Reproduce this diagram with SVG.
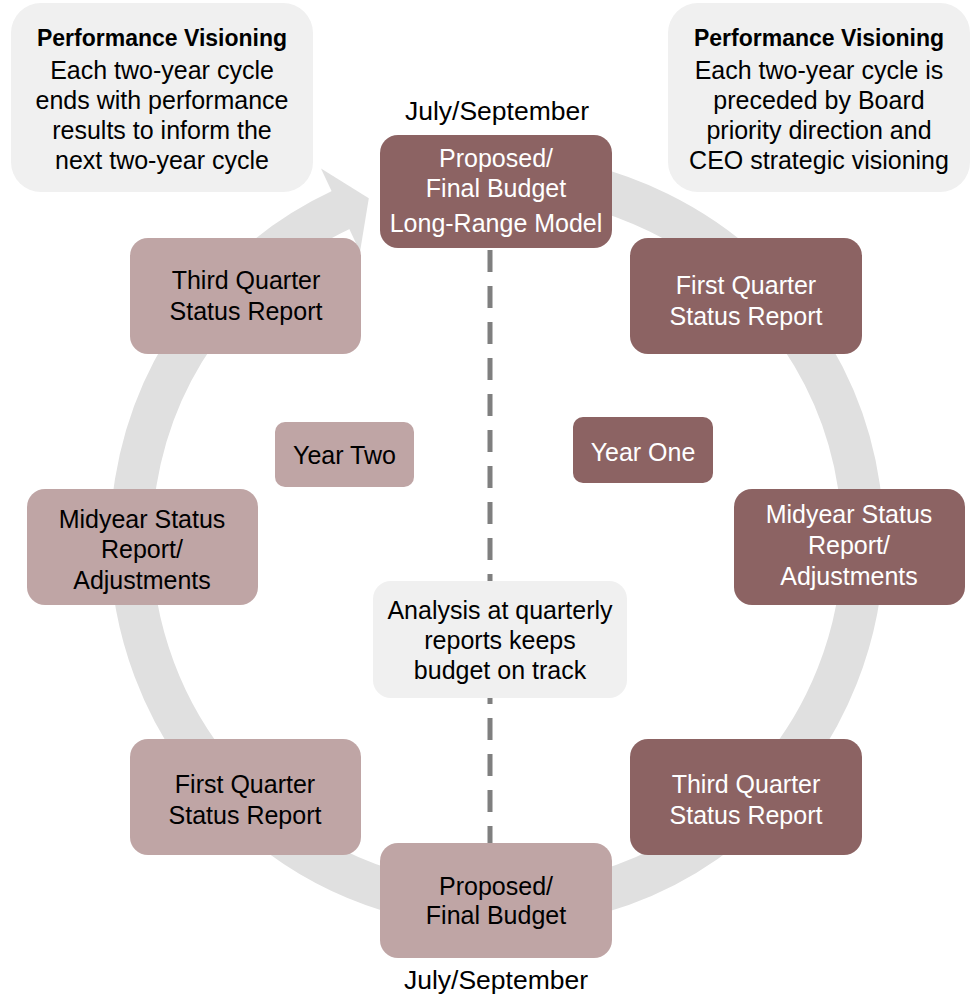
<svg xmlns="http://www.w3.org/2000/svg" width="972" height="996" viewBox="0 0 972 996">
<style>
text{font-family:"Liberation Sans",Arial,sans-serif;font-size:25px;text-anchor:middle}
.b{font-weight:bold;font-size:23px}
.js{font-size:26.5px}
.dk{fill:#8c6363}
.lt{fill:#bfa5a5}
.cl{fill:#f0f0f0}
.w{fill:#ffffff}
.k{fill:#000000}
</style>
<rect width="972" height="996" fill="#ffffff"/>
<g id="cycle-ring">
<path d="M497,175 A366,366 0 1 1 342.3,209.3" fill="none" stroke="#e0e0e0" stroke-width="42"/>
<polygon points="321,168.5 368.8,198.2 360,251.7" fill="#e0e0e0"/>
</g>
<g id="connectors">
<line x1="490" y1="250" x2="490" y2="843" stroke="#7f7f7f" stroke-width="5" stroke-dasharray="22 14"/>
</g>
<g id="callout-left">
<rect x="11" y="3" width="302" height="189" rx="30" class="cl"/>
<text x="162" y="46" class="b k">Performance Visioning</text>
<text x="162" y="79" class="k">Each two-year cycle</text>
<text x="162" y="109" class="k">ends with performance</text>
<text x="162" y="139" class="k">results to inform the</text>
<text x="162" y="169" class="k">next two-year cycle</text>
</g>
<g id="callout-right">
<rect x="668" y="3" width="302" height="189" rx="30" class="cl"/>
<text x="819" y="46" class="b k">Performance Visioning</text>
<text x="819" y="79" class="k">Each two-year cycle is</text>
<text x="819" y="109" class="k">preceded by Board</text>
<text x="819" y="139" class="k">priority direction and</text>
<text x="819" y="169" class="k">CEO strategic visioning</text>
</g>
<g id="label-top">
<text x="497" y="120" class="k js">July/September</text>
</g>
<g id="node-top-budget">
<rect x="380" y="135" width="232" height="113" rx="18" class="dk"/>
<text x="496" y="167" class="w">Proposed/</text>
<text x="496" y="197" class="w">Final Budget</text>
<text x="496" y="232" class="w">Long-Range Model</text>
</g>
<g id="node-y1-q1">
<rect x="630" y="238" width="232" height="116" rx="18" class="dk"/>
<text x="746" y="294" class="w">First Quarter</text>
<text x="746" y="325" class="w">Status Report</text>
</g>
<g id="node-year-one">
<rect x="573" y="417" width="140" height="66" rx="10" class="dk"/>
<text x="643" y="461" class="w">Year One</text>
</g>
<g id="node-y1-mid">
<rect x="734" y="489" width="231" height="116" rx="18" class="dk"/>
<text x="849" y="523" class="w">Midyear Status</text>
<text x="849" y="554" class="w">Report/</text>
<text x="849" y="585" class="w">Adjustments</text>
</g>
<g id="node-y1-q3">
<rect x="630" y="739" width="232" height="116" rx="18" class="dk"/>
<text x="746" y="793" class="w">Third Quarter</text>
<text x="746" y="824" class="w">Status Report</text>
</g>
<g id="node-bottom-budget">
<rect x="380" y="843" width="232" height="115" rx="18" class="lt"/>
<text x="496" y="895" class="k">Proposed/</text>
<text x="496" y="924" class="k">Final Budget</text>
</g>
<g id="label-bottom">
<text x="496" y="989" class="k js">July/September</text>
</g>
<g id="node-y2-q1">
<rect x="130" y="739" width="231" height="116" rx="18" class="lt"/>
<text x="245" y="793" class="k">First Quarter</text>
<text x="245" y="824" class="k">Status Report</text>
</g>
<g id="node-y2-mid">
<rect x="27" y="489" width="231" height="116" rx="18" class="lt"/>
<text x="142" y="528" class="k">Midyear Status</text>
<text x="142" y="558" class="k">Report/</text>
<text x="142" y="589" class="k">Adjustments</text>
</g>
<g id="node-year-two">
<rect x="275" y="422" width="139" height="65" rx="10" class="lt"/>
<text x="344.5" y="464" class="k">Year Two</text>
</g>
<g id="node-y2-q3">
<rect x="130" y="238" width="231" height="116" rx="18" class="lt"/>
<text x="246" y="289" class="k">Third Quarter</text>
<text x="246" y="320" class="k">Status Report</text>
</g>
<g id="node-analysis">
<rect x="373" y="581" width="254" height="117" rx="18" class="cl"/>
<text x="500" y="619" class="k">Analysis at quarterly</text>
<text x="500" y="649" class="k">reports keeps</text>
<text x="500" y="679" class="k">budget on track</text>
</g>
</svg>
